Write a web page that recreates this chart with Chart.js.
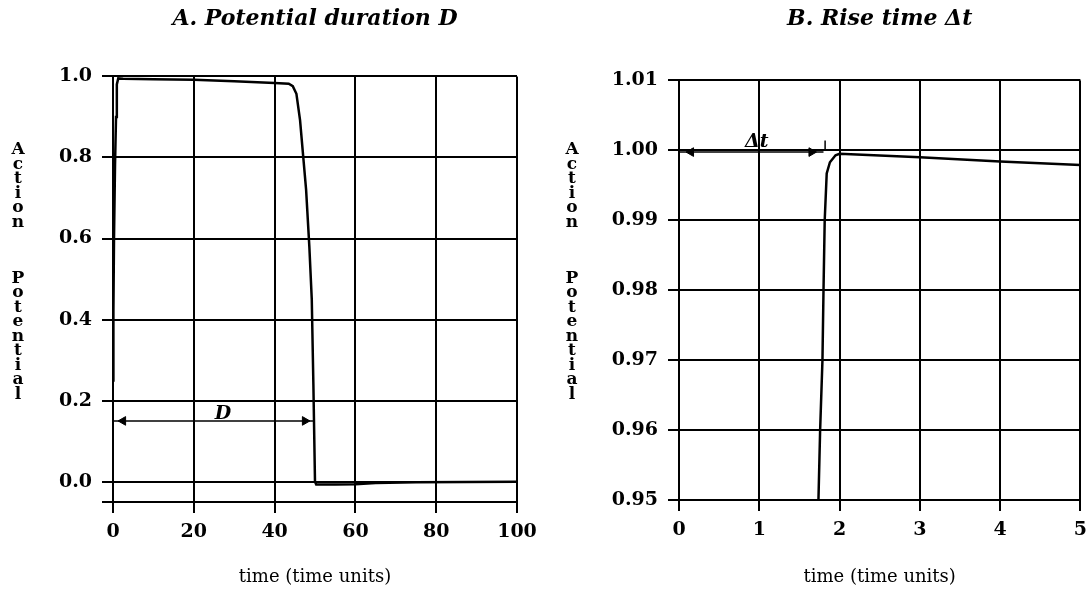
<!DOCTYPE html>
<html>
<head>
<meta charset="utf-8">
<script src="https://cdn.jsdelivr.net/npm/chart.js@4.4.1/dist/chart.umd.min.js"></script>
<style>
  html, body { margin: 0; padding: 0; background: #fff; overflow: hidden; }
  #wrap { position: relative; width: 1091px; height: 598px; overflow: hidden; }
  .box { position: absolute; top: 0; height: 598px; }
  #boxA { left: 0; width: 545px; }
  #boxB { left: 545px; width: 550px; }
</style>
</head>
<body>
<div id="wrap">
  <div class="box" id="boxA"><canvas id="chartA"></canvas></div>
  <div class="box" id="boxB"><canvas id="chartB"></canvas></div>
</div>
<script>
// A. potential duration
var durTime  = [0, 0.1, 0.25, 0.5, 0.75, 0.95, 1.3, 2.5, 10, 20, 30, 40, 43.5, 44.5, 45.4, 46.3, 47.1, 47.8, 48.6, 49.2, 49.6, 50.0, 50.3, 55, 60, 65, 75, 100];
var durValue = [0.25, 0.42, 0.6, 0.78, 0.9, 0.98, 0.995, 0.994, 0.993, 0.992, 0.988, 0.984, 0.982, 0.976, 0.957, 0.892, 0.80, 0.72, 0.58, 0.45, 0.24, 0.0, -0.007, -0.007, -0.006, -0.003, -0.001, 0.0];
var durXTicks = [0, 20, 40, 60, 80, 100];
var durYTicks = [-0.05, 0, 0.2, 0.4, 0.6, 0.8, 1.0];
var durArrowX = [0, 49.5];
var durArrowY = 0.15;
var durHeadX = [2.5, 47.5];
var durLabel = {text: 'D', x: 27.2, y: 0.167};

// B. rise time
var riseTime  = [1.737, 1.758, 1.787, 1.80, 1.815, 1.84, 1.88, 1.95, 2.0, 3, 4, 5];
var riseValue = [0.95, 0.96, 0.97, 0.98, 0.99, 0.9967, 0.9983, 0.9993, 0.9995, 0.999, 0.9984, 0.9979];
var riseXTicks = [0, 1, 2, 3, 4, 5];
var riseYTicks = [0.95, 0.96, 0.97, 0.98, 0.99, 1.00, 1.01];
var riseArrowX = [0, 1.8];
var riseArrowY = 0.99975;
var riseHeadX = [0.15, 1.65];
var riseMarkX = [1.82, 1.82];
var riseMarkY = [1.0, 1.0014];
var riseLabel = {text: '\u0394t', x: 0.97, y: 1.00114};

var serif = '"DejaVu Serif", "Liberation Serif", serif';

function toPoints(xs, ys) {
    return xs.map(function(x, i) { return {x: x, y: Array.isArray(ys) ? ys[i] : ys}; });
}

// stacked y-axis title and the in-plot marks (D, Δt)
var extraText = {
    id: 'extraText',
    afterDraw: function(chart, args, opts) {
        var ctx = chart.ctx;
        ctx.save();
        ctx.fillStyle = '#000';
        ctx.textAlign = 'center';
        ctx.textBaseline = 'middle';
        ctx.font = 'bold 17px ' + serif;
        var y = opts.top;
        for (var i = 0; i < opts.text.length; i++) {
            var ch = opts.text[i];
            if (ch === ' ') { y += opts.gap; continue; }
            ctx.fillText(ch, opts.x, y);
            y += opts.step;
        }
        var lab = opts.label;
        ctx.font = 'italic bold 19px ' + serif;
        ctx.fillText(lab.text, chart.scales.x.getPixelForValue(lab.x), chart.scales.y.getPixelForValue(lab.y));
        ctx.restore();
    }
};

function makeChart(id, cfg) {
    var tickFont = {family: serif, size: 19, weight: 'bold'};
    var gridOpts = {color: '#000', lineWidth: 2, tickLength: 11};
    return new Chart(document.getElementById(id).getContext('2d'), {
        type: 'line',
        data: {
            datasets: [{
                data: toPoints(cfg.curveX, cfg.curveY),
                borderColor: '#000',
                borderWidth: 2.5,
                pointRadius: 0,
                tension: 0
            }, {
                data: toPoints(cfg.arrowX, cfg.arrowY),
                borderColor: '#000',
                borderWidth: 1.5,
                pointRadius: 0
            }, {
                data: toPoints(cfg.headX, cfg.arrowY),
                showLine: false,
                pointStyle: 'triangle',
                pointRadius: 5,
                pointRotation: [270, 90],
                backgroundColor: '#000',
                borderColor: '#000',
                borderWidth: 1
            }].concat(cfg.extra || [])
        },
        plugins: [extraText],
        options: {
            responsive: true,
            maintainAspectRatio: false,
            animation: false,
            layout: {padding: {left: 0, right: cfg.padRight, top: 0, bottom: 0}},
            plugins: {
                legend: {display: false},
                tooltip: {enabled: false},
                title: {
                    display: true,
                    text: cfg.title,
                    color: '#000',
                    fullSize: false,
                    font: {family: serif, size: 22, style: 'italic', weight: 'bold'},
                    padding: {top: 6, bottom: cfg.titleGap}
                },
                extraText: {
                    text: 'Action Potential',
                    x: cfg.labelX,
                    top: 150,
                    step: 14.5,
                    gap: 41.5,
                    label: cfg.label
                }
            },
            scales: {
                x: {
                    type: 'linear',
                    min: cfg.xTicks[0],
                    max: cfg.xTicks[cfg.xTicks.length - 1],
                    afterBuildTicks: function(s) { s.ticks = cfg.xTicks.map(function(v) { return {value: v}; }); },
                    afterFit: function(s) { s.height = cfg.xHeight; },
                    grid: gridOpts,
                    border: {color: '#000', width: 2},
                    ticks: {color: '#000', font: tickFont, padding: 8, maxRotation: 0,
                        callback: function(v) { return String(v); }},
                    title: {display: true, text: 'time (time units)', color: '#000',
                        font: {family: serif, size: 18}, padding: {top: 0, bottom: 10}}
                },
                y: {
                    type: 'linear',
                    min: cfg.yTicks[0],
                    max: cfg.yTicks[cfg.yTicks.length - 1],
                    afterBuildTicks: function(s) { s.ticks = cfg.yTicks.map(function(v) { return {value: v}; }); },
                    afterFit: function(s) { s.width = cfg.yWidth; },
                    grid: gridOpts,
                    border: {color: '#000', width: 2},
                    ticks: {color: '#000', font: tickFont, padding: 10, callback: cfg.yLabel}
                }
            }
        }
    });
}

window.addEventListener('load', function() {
    makeChart('chartA', {
        title: 'A. Potential duration D',
        curveX: durTime, curveY: durValue,
        arrowX: durArrowX, arrowY: durArrowY, headX: durHeadX,
        xTicks: durXTicks, yTicks: durYTicks,
        yLabel: function(v) { return v < -0.01 ? '' : v.toFixed(1); },
        label: durLabel,
        padRight: 28, titleGap: 44, xHeight: 96, yWidth: 113, labelX: 18
    });
    makeChart('chartB', {
        title: 'B. Rise time \u0394t',
        curveX: riseTime, curveY: riseValue,
        arrowX: riseArrowX, arrowY: riseArrowY, headX: riseHeadX,
        xTicks: riseXTicks, yTicks: riseYTicks,
        yLabel: function(v) { return v.toFixed(2); },
        label: riseLabel,
        extra: [{
            data: toPoints(riseMarkX, riseMarkY),
            borderColor: '#000',
            borderWidth: 1.5,
            pointRadius: 0
        }],
        padRight: 0, titleGap: 48, xHeight: 98, yWidth: 134, labelX: 27
    });
});
</script>
</body>
</html>
